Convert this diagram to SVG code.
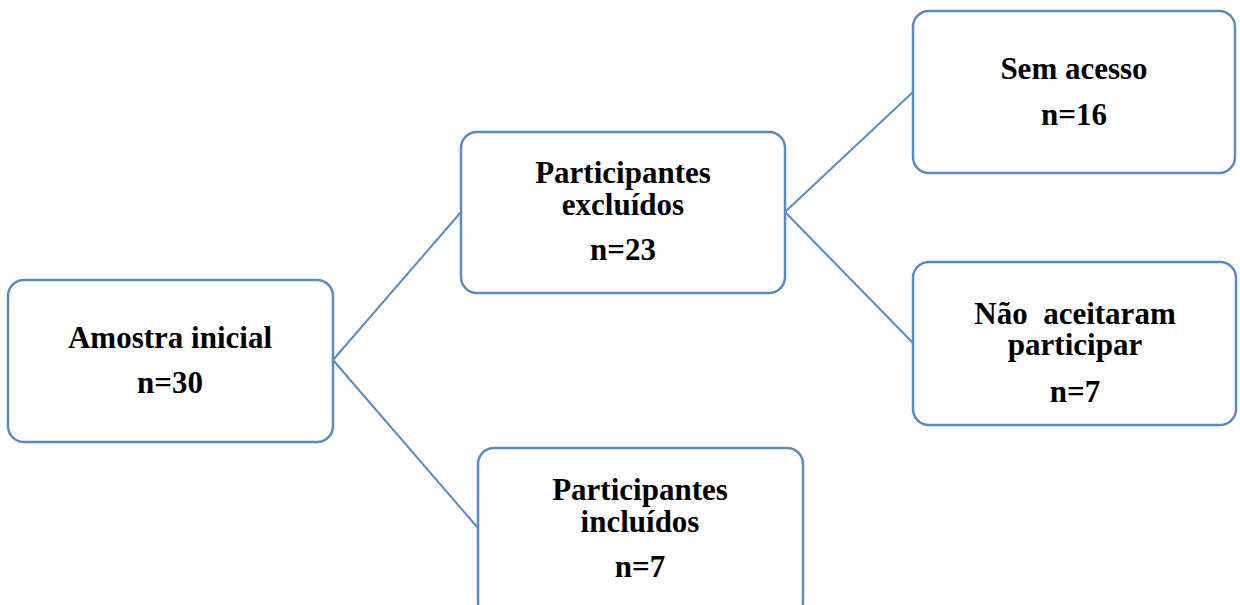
<svg xmlns="http://www.w3.org/2000/svg" width="1240" height="605" viewBox="0 0 1240 605">
<style>
.box{fill:#ffffff;stroke:#5A8AC6;stroke-width:2.5}
.ln{stroke:#5A8AC6;stroke-width:2;fill:none}
text{font-family:"Liberation Serif","Times New Roman",serif;font-weight:bold;font-size:31px;fill:#000;text-anchor:middle;white-space:pre}
</style>
<rect width="1240" height="605" fill="#ffffff"/>
<g id="connectors">
<line class="ln" x1="333" y1="360" x2="461" y2="212"/>
<line class="ln" x1="333" y1="360" x2="478" y2="528"/>
<line class="ln" x1="785" y1="212" x2="913" y2="92"/>
<line class="ln" x1="785" y1="212" x2="913" y2="343"/>
</g>
<g id="amostra">
<rect class="box" x="8" y="280" width="325" height="162" rx="16"/>
<text x="170" y="348">Amostra inicial</text>
<text x="170" y="393">n=30</text>
</g>
<g id="excluidos">
<rect class="box" x="461" y="132" width="324" height="161" rx="16"/>
<text x="623" y="183">Participantes</text>
<text x="623" y="215">excluídos</text>
<text x="623" y="260">n=23</text>
</g>
<g id="sem-acesso">
<rect class="box" x="913" y="11" width="322" height="162" rx="16"/>
<text x="1074" y="79">Sem acesso</text>
<text x="1074" y="125">n=16</text>
</g>
<g id="nao-aceitaram">
<rect class="box" x="913" y="262" width="323" height="163" rx="16"/>
<text x="1075" y="324">Não  aceitaram</text>
<text x="1075" y="355">participar</text>
<text x="1075" y="402">n=7</text>
</g>
<g id="incluidos">
<rect class="box" x="478" y="448" width="325" height="170" rx="16"/>
<text x="640" y="500">Participantes</text>
<text x="640" y="532">incluídos</text>
<text x="640" y="577">n=7</text>
</g>
</svg>
